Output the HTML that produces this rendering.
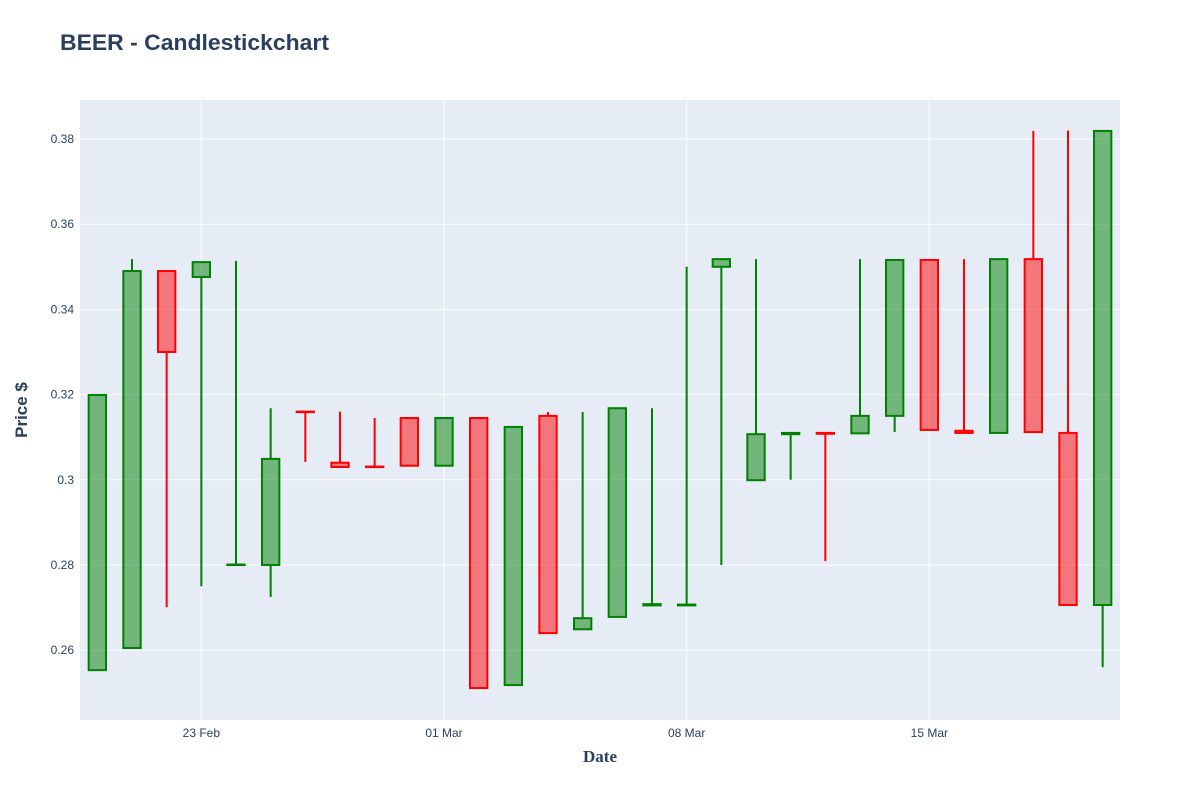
<!DOCTYPE html>
<html><head><meta charset="utf-8"><style>
body{margin:0;background:#fff;}
svg{display:block;font-family:"Liberation Sans",sans-serif;}
</style></head><body>
<svg id="chart" width="1200" height="800">
<rect x="0" y="0" width="1200" height="800" fill="#fff"/>
<rect x="80" y="100" width="1040" height="620" fill="#E5ECF6"/>
<g id="grid"></g>
<g id="marks"></g>
<g id="ticks"></g>
<text x="60" y="50" font-size="22" font-weight="bold" fill="#2a3f5f" textLength="269" lengthAdjust="spacingAndGlyphs">BEER - Candlestickchart</text>
<text x="600" y="762" text-anchor="middle" font-size="17" font-weight="bold" fill="#2a3f5f" font-family="Liberation Serif, serif">Date</text>
<text x="27" y="410" text-anchor="middle" font-size="17" font-weight="bold" fill="#2a3f5f" transform="rotate(-90 27 410)">Price $</text>
</svg>
<script>
const dates=['2024-02-20','2024-02-21','2024-02-22','2024-02-23','2024-02-24','2024-02-25','2024-02-26','2024-02-27','2024-02-28','2024-02-29','2024-03-01','2024-03-02','2024-03-03','2024-03-04','2024-03-05','2024-03-06','2024-03-07','2024-03-08','2024-03-09','2024-03-10','2024-03-11','2024-03-12','2024-03-13','2024-03-14','2024-03-15','2024-03-16','2024-03-17','2024-03-18','2024-03-19','2024-03-20'];
const opens=[0.2553,0.2605,0.349,0.3476,0.28,0.28,0.316,0.304,0.3031,0.3145,0.3033,0.3145,0.2518,0.315,0.2649,0.2678,0.2705,0.2705,0.35,0.2999,0.3107,0.311,0.3109,0.315,0.3516,0.3115,0.311,0.3518,0.311,0.2706];
const highs=[0.32,0.3518,0.349,0.3511,0.3514,0.3168,0.316,0.316,0.3145,0.3145,0.3145,0.3147,0.3124,0.3159,0.3159,0.3168,0.3168,0.35,0.3518,0.3518,0.311,0.311,0.3518,0.3516,0.3516,0.3518,0.3518,0.3819,0.382,0.3819];
const lows=[0.2553,0.2605,0.2701,0.275,0.28,0.2725,0.3042,0.303,0.303,0.3033,0.3033,0.2511,0.2518,0.264,0.2649,0.2678,0.2705,0.2705,0.28,0.2999,0.3,0.2809,0.3109,0.3112,0.3117,0.311,0.311,0.3112,0.2706,0.256];
const closes=[0.3199,0.349,0.33,0.3511,0.2801,0.3049,0.3159,0.303,0.303,0.3033,0.3145,0.2511,0.3124,0.264,0.2675,0.3168,0.2708,0.2707,0.3518,0.3107,0.311,0.3108,0.315,0.3516,0.3117,0.311,0.3518,0.3112,0.2706,0.3819];
const yTicks=[0.26,0.28,0.3,0.32,0.34,0.36,0.38];
const yTickLabels=['0.26','0.28','0.3','0.32','0.34','0.36','0.38'];
const xTicks=['2024-02-23','2024-03-01','2024-03-08','2024-03-15'];
const xTickLabels=['23 Feb','01 Mar','08 Mar','15 Mar'];

const NS='http://www.w3.org/2000/svg';
const x0=Date.parse('2024-02-19T12:00:00Z'), x1=Date.parse('2024-03-20T12:00:00Z');
const X=d=>80+(Date.parse(d+'T00:00:00Z')-x0)/(x1-x0)*1040;
const ymin=0.2436, ymax=0.38916;
const Y=v=>720-(v-ymin)/(ymax-ymin)*620;
function mk(tag,attrs,parent){const e=document.createElementNS(NS,tag);for(const k in attrs)e.setAttribute(k,attrs[k]);parent.appendChild(e);return e;}
const grid=document.getElementById('grid'),marks=document.getElementById('marks'),ticks=document.getElementById('ticks');
yTicks.forEach((t,i)=>{
  const l=mk('line',{x1:80,x2:1120,y1:Y(t),y2:Y(t),stroke:'#fff','stroke-width':1},grid);
  
  
  const tx=mk('text',{x:74,y:Y(t)+4,'text-anchor':'end','font-size':12,fill:'#2a3f5f'},ticks);
  tx.textContent=yTickLabels[i];
  
  
});
xTicks.forEach((t,i)=>{
  const l=mk('line',{x1:X(t),x2:X(t),y1:100,y2:720,stroke:'#fff','stroke-width':1},grid);
  
  
  const tx=mk('text',{x:X(t),y:737,'text-anchor':'middle','font-size':12,fill:'#2a3f5f'},ticks);
  tx.textContent=xTickLabels[i];
  
  
});
const hw=(1040/30)*0.25;
dates.forEach((d,i)=>{
  const up=closes[i]>=opens[i];
  const col=up?'#008000':'#ff0000', fill=up?'rgba(0,128,0,0.5)':'rgba(255,0,0,0.5)';
  const cx=X(d), top=Y(Math.max(opens[i],closes[i])), bot=Y(Math.min(opens[i],closes[i]));
  const g=mk('g',{},marks);
  
  
  mk('line',{x1:cx,x2:cx,y1:Y(highs[i]),y2:top,stroke:col,'stroke-width':2},g);
  mk('line',{x1:cx,x2:cx,y1:bot,y2:Y(lows[i]),stroke:col,'stroke-width':2},g);
  mk('rect',{x:cx-hw,y:top,width:2*hw,height:Math.max(bot-top,0.5),fill:fill,stroke:col,'stroke-width':2},g);
});
</script>
</body></html>
